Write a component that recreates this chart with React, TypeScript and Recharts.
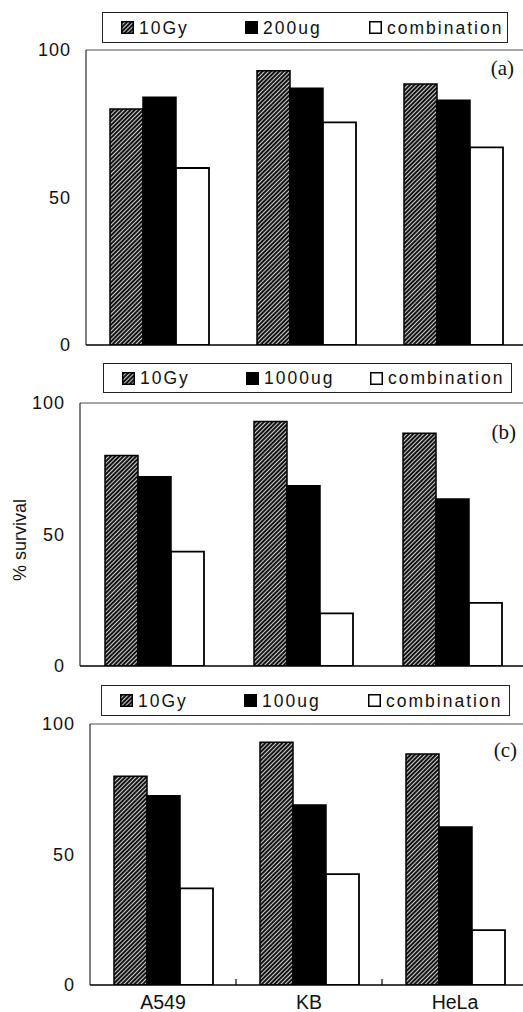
import React from 'react';
import { BarChart, Bar, XAxis, YAxis, Legend, ReferenceLine } from 'recharts';

// ---------- data ----------
const categories = ['A549', 'KB', 'HeLa'];
const yTicks = [0, 50, 100];
const panelLabels = ['(a)', '(b)', '(c)'];
const radiationName = '10Gy';
const comboName = 'combination';
const doseNames = ['200ug', '1000ug', '100ug'];

const radiation = [80, 93, 88.5];
const drugA = [84, 87, 83];
const comboA = [60, 75.5, 67];
const drugB = [72, 68.5, 63.5];
const comboB = [43.5, 20, 24];
const drugC = [72.5, 69, 60.5];
const comboC = [37, 42.5, 21];

const drugSeries = [drugA, drugB, drugC];
const comboSeries = [comboA, comboB, comboC];

// ---------- layout ----------
const FONT = '"Liberation Sans", Arial, Helvetica, sans-serif';
const SERIF = '"Liberation Serif", "Times New Roman", serif';
const CHART_W = 540;

const layouts = [
  { top: 50, bottom: 345, axisX: 86, right: 13, legend: { left: 102, top: 12, width: 406, height: 31 }, labelRight: 514, labelCy: 68, showX: false },
  { top: 403, bottom: 666, axisX: 80, right: 13, legend: { left: 103, top: 363, width: 409, height: 30 }, labelRight: 516, labelCy: 432, showX: false },
  { top: 724, bottom: 985, axisX: 90, right: 12, legend: { left: 101, top: 685, width: 409, height: 31 }, labelRight: 517, labelCy: 750, showX: true },
];

const X_AXIS_H = 27;

const HatchDefs = ({ id }: { id: string }) => (
  <defs>
    <pattern id={id} width={3} height={3} patternUnits="userSpaceOnUse" patternTransform="rotate(45)">
      <rect width={3} height={3} fill="#141414" />
      <line x1={0.5} y1={0} x2={0.5} y2={3} stroke="#d0d0d0" strokeWidth={1} />
    </pattern>
  </defs>
);

const LegendBox = ({ panel }: { panel: number }) => {
  const names = [radiationName, doseNames[panel], comboName];
  const pid = `lhatch${panel}`;
  const icon = (i: number) => (
    <svg width={13} height={13} style={{ display: 'block', flex: 'none' }}>
      <defs>
        <pattern id={pid} width={3} height={3} patternUnits="userSpaceOnUse" patternTransform="rotate(45)">
          <rect width={3} height={3} fill="#141414" />
          <line x1={0.5} y1={0} x2={0.5} y2={3} stroke="#d0d0d0" strokeWidth={1} />
        </pattern>
      </defs>
      <rect x={0.75} y={0.75} width={11.5} height={11.5}
        fill={i === 0 ? `url(#${pid})` : i === 1 ? '#000' : '#fff'}
        stroke="#000" strokeWidth={1.5} />
    </svg>
  );
  const L = layouts[panel].legend;
  return (
    <div style={{
      boxSizing: 'border-box', width: L.width, height: L.height, border: '1.5px solid #222',
      background: '#fff', display: 'flex', alignItems: 'center', paddingLeft: 18,
      fontFamily: FONT, fontSize: 17.5, letterSpacing: 2, color: '#111',
    }}>
      {names.map((n, i) => (
        <div key={n} style={{ display: 'flex', alignItems: 'center', width: i < 2 ? 124 : undefined, gap: 5 }}>
          {icon(i)}
          <span style={{ lineHeight: '18px' }}>{n}</span>
        </div>
      ))}
    </div>
  );
};

const CategoryTick = (props: any) => {
  const { x, y, payload, index } = props;
  const half = payload && typeof payload.offset === 'number' && payload.offset > 0 ? payload.offset : 73;
  return (
    <g>
      <text x={x} y={y} dy="0.71em" textAnchor="middle" fontSize={19.5} fill="#111" fontFamily={FONT}>
        {payload.value}
      </text>
      {index < categories.length - 1 && (
        <line x1={x + half} x2={x + half} y1={y - 10} y2={y - 16} stroke="#000" strokeWidth={1.2} />
      )}
    </g>
  );
};

const Panel = ({ panel }: { panel: number }) => {
  const lay = layouts[panel];
  const data = categories.map((c, i) => ({
    name: c,
    rad: radiation[i],
    drug: drugSeries[panel][i],
    combo: comboSeries[panel][i],
  }));
  const height = lay.bottom + X_AXIS_H;
  const hatchId = `hatch${panel}`;
  return (
    <div style={{ position: 'absolute', left: 0, top: 0 }}>
      <BarChart
        width={CHART_W}
        height={height}
        data={data}
        barGap={0}
        margin={{ top: lay.top, left: 0, right: lay.right, bottom: 0 }}
      >
        <HatchDefs id={hatchId} />
        <XAxis
          dataKey="name"
          height={X_AXIS_H}
          axisLine={{ stroke: '#000', strokeWidth: 1.5 }}
          tickLine={false}
          tickSize={0}
          tickMargin={10}
          tick={lay.showX ? <CategoryTick /> : false}
          interval={0}
        />
        <YAxis
          width={lay.axisX}
          domain={[0, 100]}
          ticks={yTicks}
          type="number"
          allowDataOverflow
          axisLine={{ stroke: '#000', strokeWidth: 1 }}
          tickLine={false}
          tickSize={0}
          tickMargin={15}
          tick={{ fontSize: 18, fill: '#111', fontFamily: FONT, letterSpacing: 1 }}
          label={panel === 1 ? {
            content: () => (
              <text x={20} y={540} transform="rotate(-90 20 540)" textAnchor="middle"
                dominantBaseline="central" fontSize={18} fill="#111" fontFamily={FONT}>
                % survival
              </text>
            ),
          } : undefined}
        />
        <ReferenceLine
          y={100}
          stroke="#8a8a8a"
          strokeWidth={1.5}
          label={{
            content: () => (
              <text x={lay.labelRight} y={lay.labelCy} textAnchor="end" dominantBaseline="central"
                fontSize={21} fill="#111" fontFamily={SERIF}>
                {panelLabels[panel]}
              </text>
            ),
          }}
        />
        <Legend
          layout="vertical"
          align="center"
          verticalAlign="middle"
          wrapperStyle={{ position: 'absolute', left: lay.legend.left, top: lay.legend.top, width: lay.legend.width, height: lay.legend.height }}
          content={() => <LegendBox panel={panel} />}
        />
        <Bar dataKey="rad" name={radiationName} fill={`url(#${hatchId})`} stroke="#000" strokeWidth={1.5} barSize={33} isAnimationActive={false} />
        <Bar dataKey="drug" name={doseNames[panel]} fill="#000" stroke="#000" strokeWidth={1.5} barSize={33} isAnimationActive={false} />
        <Bar dataKey="combo" name={comboName} fill="#fff" stroke="#000" strokeWidth={1.8} barSize={33} isAnimationActive={false} />
      </BarChart>
    </div>
  );
};

export default function App() {
  return (
    <div style={{ position: 'absolute', left: 0, top: 0, width: 523, height: 1012, overflow: 'hidden', background: '#fff' }}>
      {[0, 1, 2].map((p) => (
        <Panel key={p} panel={p} />
      ))}
    </div>
  );
}
